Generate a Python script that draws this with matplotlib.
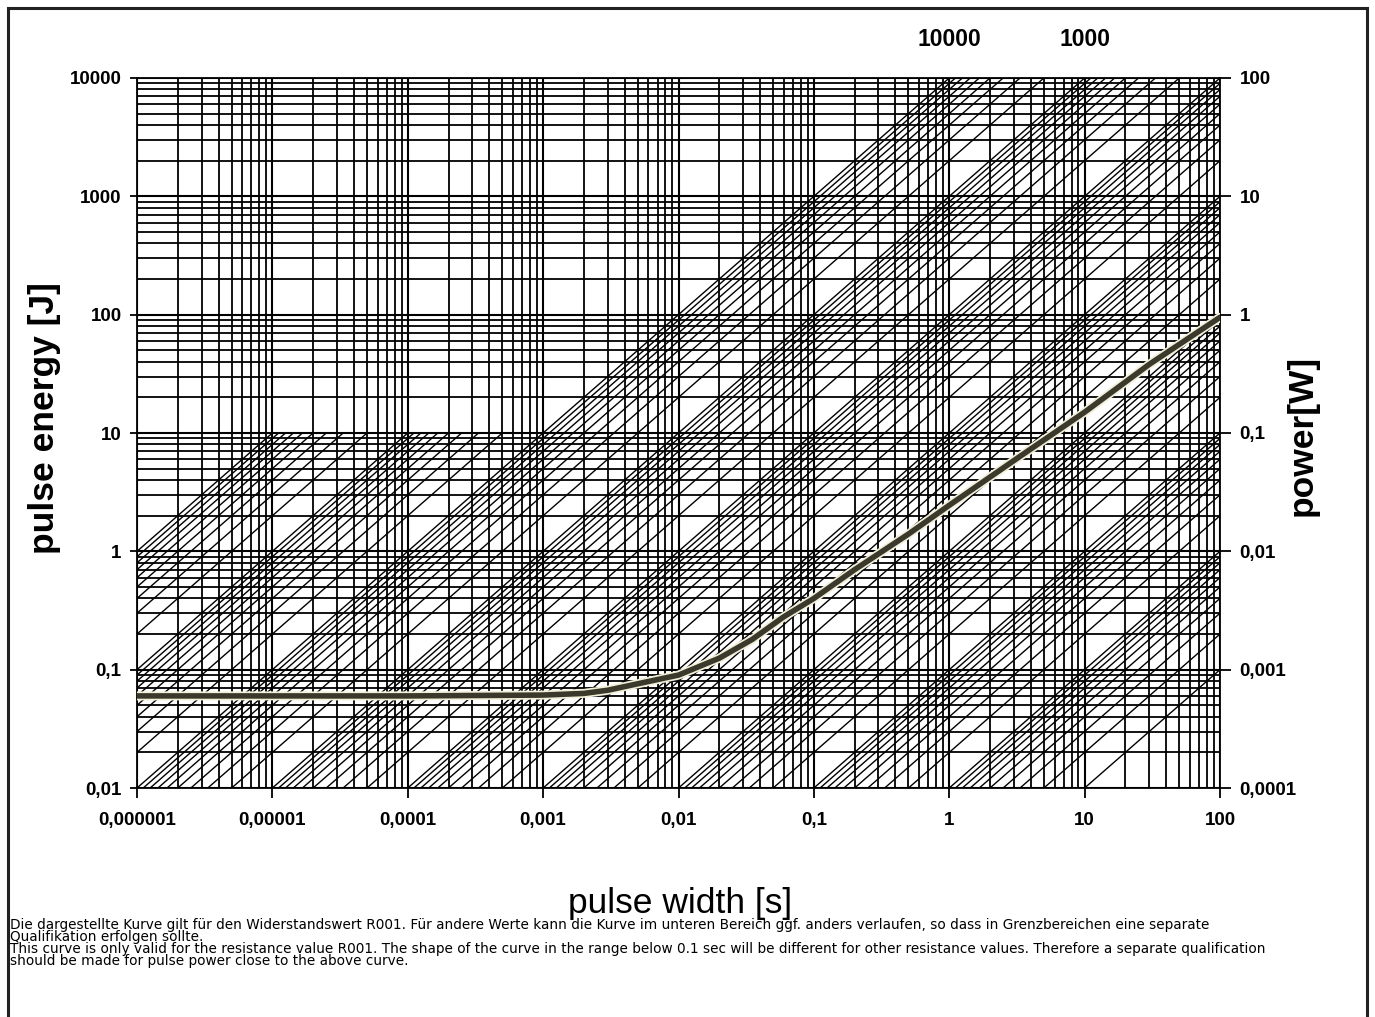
import numpy as np
import matplotlib
matplotlib.use("Agg")
import matplotlib.pyplot as plt
from matplotlib.ticker import LogLocator, FixedLocator, FixedFormatter, NullFormatter, NullLocator
from matplotlib.patches import Rectangle

plt.rcParams['font.family'] = ['Liberation Sans', 'DejaVu Sans']

# Pulskurve R001
pulse_width = [1e-6, 1e-5, 1e-4, 1e-3, 2e-3, 3e-3, 5e-3, 0.01, 0.02, 0.035, 0.06,
               0.1, 0.2, 0.5, 1, 3.3, 10, 30, 100]
pulse_energy = [0.06, 0.06, 0.06, 0.061, 0.063, 0.067, 0.076, 0.09, 0.125, 0.18, 0.28,
                0.4, 0.7, 1.4, 2.45, 6.3, 15, 38, 95]

x_ticks = [1e-6, 1e-5, 1e-4, 1e-3, 1e-2, 1e-1, 1, 10, 100]
x_labels = ['0,000001', '0,00001', '0,0001', '0,001', '0,01', '0,1', '1', '10', '100']
y_ticks = [0.01, 0.1, 1, 10, 100, 1000, 10000]
y_labels = ['0,01', '0,1', '1', '10', '100', '1000', '10000']
power_ticks = [1e-4, 1e-3, 1e-2, 1e-1, 1, 10, 100]
power_labels = ['0,0001', '0,001', '0,01', '0,1', '1', '10', '100']
top_pos = [1, 10]
top_labels = ['10000', '1000']

# Linien konstanter Leistung P = m * 10^n
multipliers = [1, 2, 3, 4, 5, 6, 7, 8, 9]
decades_full = [1e-3, 1e-2, 1e-1, 1, 10, 100, 1000]   # E bis 10000
decades_short = [1e4, 1e5]                             # E nur bis 10
e_min, e_full, e_short = 0.01, 10000, 10

footer = [
    "Die dargestellte Kurve gilt für den Widerstandswert R001. Für andere Werte kann die Kurve im unteren Bereich ggf. anders verlaufen, so dass in Grenzbereichen eine separate",
    "Qualifikation erfolgen sollte.",
    "This curve is only valid for the resistance value R001. The shape of the curve in the range below 0.1 sec will be different for other resistance values. Therefore a separate qualification",
    "should be made for pulse power close to the above curve.",
]

W, H = 1375, 1017
fig = plt.figure(figsize=(W / 100, H / 100), dpi=100)
ax = fig.add_axes([137 / W, 1 - 788 / H, 1083 / W, 710 / H])
ax.set_xscale('log')
ax.set_yscale('log')
ax.set_xlim(1e-6, 100)
ax.set_ylim(0.01, 10000)

# Raster
ax.xaxis.set_minor_locator(LogLocator(base=10, subs=np.arange(2, 10), numticks=50))
ax.yaxis.set_minor_locator(LogLocator(base=10, subs=np.arange(2, 10), numticks=50))
ax.xaxis.set_minor_formatter(NullFormatter())
ax.yaxis.set_minor_formatter(NullFormatter())
ax.grid(True, which='major', color='black', lw=1.5, zorder=1)
ax.grid(True, which='minor', color='black', lw=1.3, zorder=1)
ax.set_axisbelow(True)

# Diagonalen
dlw = 1.0
for dec in decades_full:
    for m in multipliers:
        p = m * dec
        ax.plot([e_min / p, e_full / p], [e_min, e_full], color='black', lw=dlw, zorder=2)
ax.plot([e_min / 1e4, e_full / 1e4], [e_min, e_full], color='black', lw=dlw, zorder=2)
for dec in decades_short:
    for m in multipliers:
        p = m * dec
        if m == 1 and dec == 1e4:
            continue
        ax.plot([e_min / p, e_short / p], [e_min, e_short], color='black', lw=dlw, zorder=2)
ax.plot([e_min / 1e6, e_short / 1e6], [e_min, e_short], color='black', lw=dlw, zorder=2)

# Kurve
ax.plot(pulse_width, pulse_energy, color='#f1efd8', lw=6.5, zorder=4, solid_capstyle='round')
ax.plot(pulse_width, pulse_energy, color='#3a392c', lw=4, zorder=5, solid_capstyle='round')

ax.xaxis.set_major_locator(FixedLocator(x_ticks))
ax.xaxis.set_major_formatter(FixedFormatter(x_labels))
ax.yaxis.set_major_locator(FixedLocator(y_ticks))
ax.yaxis.set_major_formatter(FixedFormatter(y_labels))
ax.tick_params(which='minor', length=0)
ax.tick_params(axis='x', which='major', length=7, width=1.3, pad=10, labelsize=13.5)
ax.tick_params(axis='y', which='major', length=5, width=1.3, pad=6, labelsize=13.5)
for lab in ax.get_xticklabels() + ax.get_yticklabels():
    lab.set_fontweight('bold')
for s in ax.spines.values():
    s.set_linewidth(1.3)

# rechte Achse Leistung
ax2 = ax.twinx()
ax2.set_yscale('log')
ax2.set_ylim(1e-4, 100)
ax2.yaxis.set_major_locator(FixedLocator(power_ticks))
ax2.yaxis.set_major_formatter(FixedFormatter(power_labels))
ax2.yaxis.set_minor_locator(NullLocator())
ax2.tick_params(axis='y', length=8, width=1.3, pad=6, labelsize=13.5)
for lab in ax2.get_yticklabels():
    lab.set_fontweight('bold')
for s in ax2.spines.values():
    s.set_visible(False)

# Leistungswerte oben
for xp, lab in zip(top_pos, top_labels):
    ax.text(xp, (788 - 40) / 710, lab, transform=ax.get_xaxis_transform(),
            ha='center', va='center', fontsize=16.5, fontweight='bold')

fig.text(45 / W, 1 - 418 / H, 'pulse energy [J]', rotation=90, ha='center', va='center',
         fontsize=25.5, fontweight='bold')
fig.text(1302 / W, 1 - 435 / H, 'power[W]', rotation=90, ha='center', va='center',
         fontsize=25.5, fontweight='bold')
fig.text(680 / W, 1 - 903 / H, 'pulse width [s]', ha='center', va='center', fontsize=25.5)

for i, line in enumerate(footer):
    fig.text(10 / W, 1 - (925 + 12 * i) / H, line, ha='left', va='center', fontsize=9.8,
             family=['DejaVu Sans'])

fig.patches.append(Rectangle((8 / W, -0.01), (1367 - 8) / W, 1 - 8 / H + 0.01,
                             transform=fig.transFigure, fill=False, lw=2.2, ec='#222222'))

fig.savefig('out.png', dpi=100)
